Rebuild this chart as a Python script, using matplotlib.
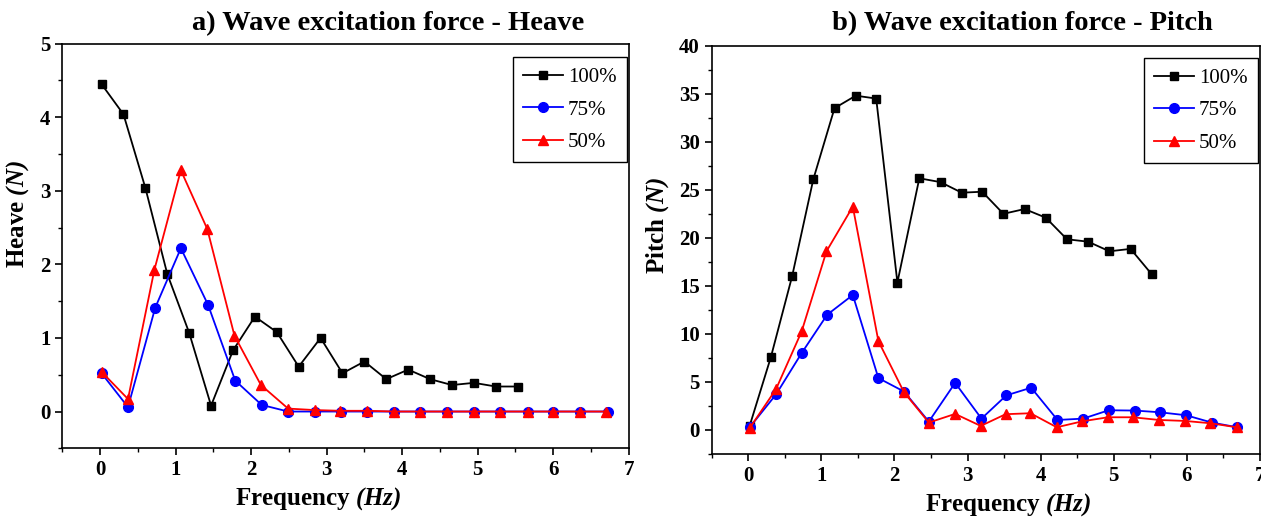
import numpy as np
import matplotlib
matplotlib.use("Agg")
import matplotlib.pyplot as plt
from matplotlib.ticker import MultipleLocator

plt.rcParams['font.family'] = 'Liberation Serif'
plt.rcParams['mathtext.fontset'] = 'custom'
plt.rcParams['mathtext.it'] = 'Liberation Serif:italic:bold'
plt.rcParams['mathtext.rm'] = 'Liberation Serif:italic:bold'

# ---- data ----
labels = ["100%", "75%", "50%"]

# a) heave
heave_f100 = [0.02, 0.31, 0.60, 0.89, 1.18, 1.47, 1.76, 2.05, 2.34, 2.63,
              2.92, 3.21, 3.50, 3.79, 4.08, 4.37, 4.66, 4.95, 5.24, 5.53]
heave_100 = [4.45, 4.04, 3.04, 1.87, 1.07, 0.08, 0.83, 1.29, 1.08, 0.61,
             1.00, 0.52, 0.68, 0.44, 0.57, 0.44, 0.36, 0.39, 0.34, 0.34]
heave_f75 = [0.02, 0.37, 0.73, 1.07, 1.43, 1.79, 2.14, 2.49, 2.84, 3.19,
             3.54, 3.89, 4.24, 4.60, 4.95, 5.30, 5.66, 6.00, 6.36, 6.72]
heave_75 = [0.52, 0.06, 1.41, 2.22, 1.45, 0.42, 0.09, 0.0, 0.0, 0.0,
            0.0, 0.0, 0.0, 0.0, 0.0, 0.0, 0.0, 0.0, 0.0, 0.0]
heave_f50 = [0.02, 0.37, 0.72, 1.07, 1.42, 1.78, 2.13, 2.49, 2.84, 3.18,
             3.54, 3.89, 4.23, 4.60, 4.95, 5.29, 5.66, 6.00, 6.35, 6.70]
heave_50 = [0.54, 0.17, 1.93, 3.28, 2.48, 1.03, 0.36, 0.04, 0.02, 0.01,
            0.01, 0.0, 0.0, 0.0, 0.0, 0.0, 0.0, 0.0, 0.0, 0.0]

# b) pitch
pitch_f100 = [0.02, 0.31, 0.60, 0.89, 1.18, 1.47, 1.75, 2.04, 2.34, 2.63,
              2.92, 3.20, 3.49, 3.78, 4.07, 4.36, 4.65, 4.94, 5.23, 5.52]
pitch_100 = [0.45, 7.6, 16.0, 26.1, 33.5, 34.8, 34.5, 15.35, 26.2, 25.8,
             24.7, 24.8, 22.5, 23.0, 22.1, 19.85, 19.6, 18.6, 18.85, 16.2]
pitch_f75 = [0.02, 0.38, 0.73, 1.08, 1.43, 1.78, 2.13, 2.47, 2.83, 3.19,
             3.53, 3.87, 4.23, 4.58, 4.93, 5.29, 5.63, 5.99, 6.34, 6.69]
pitch_75 = [0.28, 3.7, 8.0, 12.0, 14.05, 5.4, 4.0, 0.87, 4.9, 1.18,
            3.6, 4.4, 1.04, 1.18, 2.05, 2.02, 1.84, 1.53, 0.77, 0.28]
pitch_f50 = [0.02, 0.38, 0.73, 1.07, 1.43, 1.78, 2.13, 2.47, 2.83, 3.18,
             3.52, 3.86, 4.22, 4.57, 4.92, 5.26, 5.62, 5.97, 6.32, 6.68]
pitch_50 = [0.2, 4.25, 10.25, 18.6, 23.25, 9.25, 3.93, 0.77, 1.67, 0.42,
            1.64, 1.74, 0.28, 0.9, 1.32, 1.32, 1.04, 0.94, 0.70, 0.28]

colors = ["black", "blue", "red"]
markers = ["s", "o", "^"]
msizes = [6.0, 7.0, 7.5]

fig = plt.figure(figsize=(12.61, 5.19), dpi=100)
ax1 = fig.add_axes([0.0494, 0.1362, 0.4492, 0.7796])
ax2 = fig.add_axes([0.5644, 0.1253, 0.4348, 0.7866])


def draw(ax, series, ylim, ymaj, ymin, ylab, title, tx, leg_anchor,
         xlab_x, ylab_x, ylab_y):
    for (f, v), c, m, ms, lab in zip(series, colors, markers, msizes, labels):
        ax.plot(f, v, color=c, marker=m, ms=ms, lw=1.3, label=lab)
    ax.set_xlim(-0.5, 7)
    ax.set_ylim(*ylim)
    ax.xaxis.set_major_locator(MultipleLocator(1))
    ax.xaxis.set_minor_locator(MultipleLocator(0.5))
    ax.yaxis.set_major_locator(MultipleLocator(ymaj))
    ax.yaxis.set_minor_locator(MultipleLocator(ymin))
    ax.tick_params(which='major', direction='out', length=5, width=1.2,
                   labelsize=15)
    ax.tick_params(which='minor', direction='out', length=3, width=1.0)
    for lbl in ax.get_xticklabels() + ax.get_yticklabels():
        lbl.set_fontweight('bold')
    for sp in ax.spines.values():
        sp.set_linewidth(1.2)
    ax.set_xlabel(r"Frequency $\mathit{(Hz)}$", fontsize=18,
                  fontweight='bold')
    ax.set_ylabel(ylab, fontsize=18, fontweight='bold')
    ax.xaxis.set_label_coords(xlab_x, -0.09)
    ax.yaxis.set_label_coords(ylab_x, ylab_y)
    fig.text(tx, 0.955, title, fontsize=20.5, fontweight='bold',
             ha='center', va='center')
    leg = ax.legend(loc='upper right', bbox_to_anchor=leg_anchor,
                    borderaxespad=0, fontsize=15, handlelength=1.9,
                    fancybox=False, framealpha=1, edgecolor='black',
                    borderpad=0.5, labelspacing=0.62, handletextpad=0.25)
    leg.get_frame().set_linewidth(1.0)


draw(ax1, [(heave_f100, heave_100), (heave_f75, heave_75), (heave_f50, heave_50)],
     (-0.5, 5), 1, 0.5, r"Heave $\mathit{(N)}$",
     "a) Wave excitation force - Heave", 388 / 1261, (0.997, 0.967),
     0.451, -0.055, 0.58)
draw(ax2, [(pitch_f100, pitch_100), (pitch_f75, pitch_75), (pitch_f50, pitch_50)],
     (-2.5, 40), 5, 2.5, r"Pitch $\mathit{(N)}$",
     "b) Wave excitation force - Pitch", 1022 / 1261, (0.9964, 0.97),
     0.540, -0.075, 0.56)

fig.savefig("out.png", dpi=100)
